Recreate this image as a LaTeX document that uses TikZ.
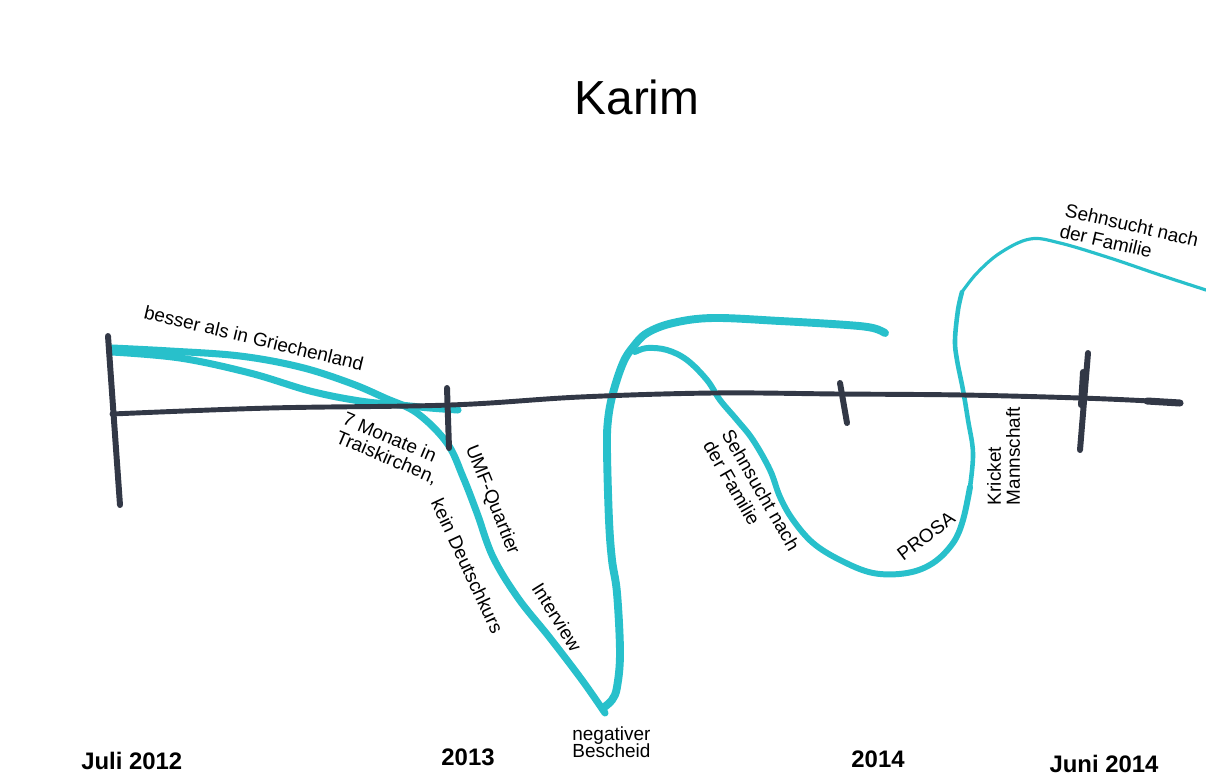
\documentclass[tikz,border=0pt]{standalone}
\usepackage{fontspec}
\setmainfont{Liberation Sans}
\definecolor{marker}{RGB}{40,192,203}
\definecolor{axisink}{RGB}{50,56,70}
\begin{document}
\begin{tikzpicture}[x=0.02cm,y=-0.02cm,
  trail/.style={draw=marker, line cap=round, line join=round},
  axisline/.style={draw=axisink, line width=2.8pt, line cap=round, line join=round},
  tickmark/.style={draw=axisink, line width=3.4pt, line cap=round},
  lbl/.style={font=\fontsize{10.8}{12}\selectfont, inner sep=0pt},
  year/.style={font=\fontsize{13.6}{16}\selectfont\bfseries, inner sep=0pt, anchor=base},
]
\useasboundingbox[fill=white] (0,0) rectangle (1206,778);

% --- marker trail ---
% upper strand and the long descent
\draw[trail, line width=4pt] plot[smooth, tension=0.6] coordinates {
  (112,348) (170,351) (240,356) (300,367) (350,383) (385,398) (417,413)
  (447,443) (463,477) (477,513) (493,557) (518,598) (550,638) (582,680) (605,713)};
% lower strand running into the axis
\draw[trail, line width=4pt] plot[smooth, tension=0.6] coordinates {
  (112,352) (180,358) (250,373) (310,391) (360,401) (400,405) (430,408) (458,410)};
% climb and upper branch
\draw[trail, line width=4.5pt] plot[smooth, tension=0.6] coordinates {
  (603,708) (612,700) (617,687) (620,653) (617,593) (612,560) (609,520)
  (607,450) (608,420) (613,393) (623,363) (633,347) (647,333) (673,323)
  (713,318) (780,321) (847,325) (873,328) (885,333)};
% lower branch down to the valley and up again
\draw[trail, line width=3.4pt] plot[smooth, tension=0.6] coordinates {
  (635,352) (647,348) (667,350) (687,360) (707,380) (720,400) (737,420)
  (753,440) (770,470) (780,497) (793,520) (813,543) (840,560) (873,573)
  (907,573) (933,563) (953,543) (963,520) (970,487)};
\draw[trail, line width=2.6pt] plot[smooth, tension=0.6] coordinates {
  (970,487) (973,453) (968,420) (963,390) (957,360) (955,340) (958,310) (962,292)};
\draw[trail, line width=1.8pt] plot[smooth, tension=0.6] coordinates {
  (962,292) (977,273) (1000,253) (1030,239) (1060,243) (1110,258) (1160,275) (1206,290)};

% --- time axis ---
\draw[axisline] plot[smooth, tension=0.6] coordinates {
  (112,414) (270,408) (450,405) (580,397) (713,393) (840,394) (963,395)
  (1080,398) (1150,401) (1180,403)};
\draw[axisink, line width=4pt, line cap=round] (1147,401) -- (1180,403);
\draw[tickmark] (108,336) -- (120,505);
\draw[tickmark] (447,388) -- (449,448);
\draw[tickmark] (840,383) -- (847,423);
\draw[tickmark] (1088,353) -- (1080,450);
\draw[tickmark] (1083,372) -- (1081,405);

% --- title ---
\node[font=\fontsize{27.2}{30}\selectfont, inner sep=0pt, anchor=base] (title) at (637,114) {Karim};

% --- annotations along the trail ---
\node[lbl, rotate=-13.5] (greece) at (254,338) {besser als in Griechenland};
\node[lbl, rotate=-23] (monate) at (390,437) {7 Monate in};
\node[lbl, rotate=-23] (traisk) at (386.5,458) {Traiskirchen,};
\node[lbl, rotate=-65] (kurs) at (467.5,566) {kein Deutschkurs};
\node[lbl, rotate=-68] (umf) at (492,500) {UMF-Quartier};
\node[lbl, rotate=-58] (interview) at (557,617) {Interview};
\node[lbl, anchor=base west] (neg) at (572,740) {negativer};
\node[lbl, anchor=base west] (besch) at (572,757) {Bescheid};
\node[lbl, rotate=-60] (sehnA) at (761,490) {Sehnsucht nach};
\node[lbl, rotate=-60] (famA) at (732,483) {der Familie};
\node[lbl, rotate=37] (prosa) at (926,536) {PROSA};
\node[lbl, rotate=90] (kricket) at (994,476) {Kricket};
\node[lbl, rotate=90] (mannsch) at (1013,456) {Mannschaft};
\node[lbl, rotate=-13] (sehnB) at (1132,225) {Sehnsucht nach};
\node[lbl, rotate=-13] (famB) at (1106,241) {der Familie};

% --- years ---
\node[year, anchor=base west] (y2012) at (81,769) {Juli 2012};
\node[year] (y2013) at (468,765) {2013};
\node[year] (y2014) at (878,767) {2014};
\node[year] (y2014b) at (1104,772) {Juni 2014};
\end{tikzpicture}
\end{document}
